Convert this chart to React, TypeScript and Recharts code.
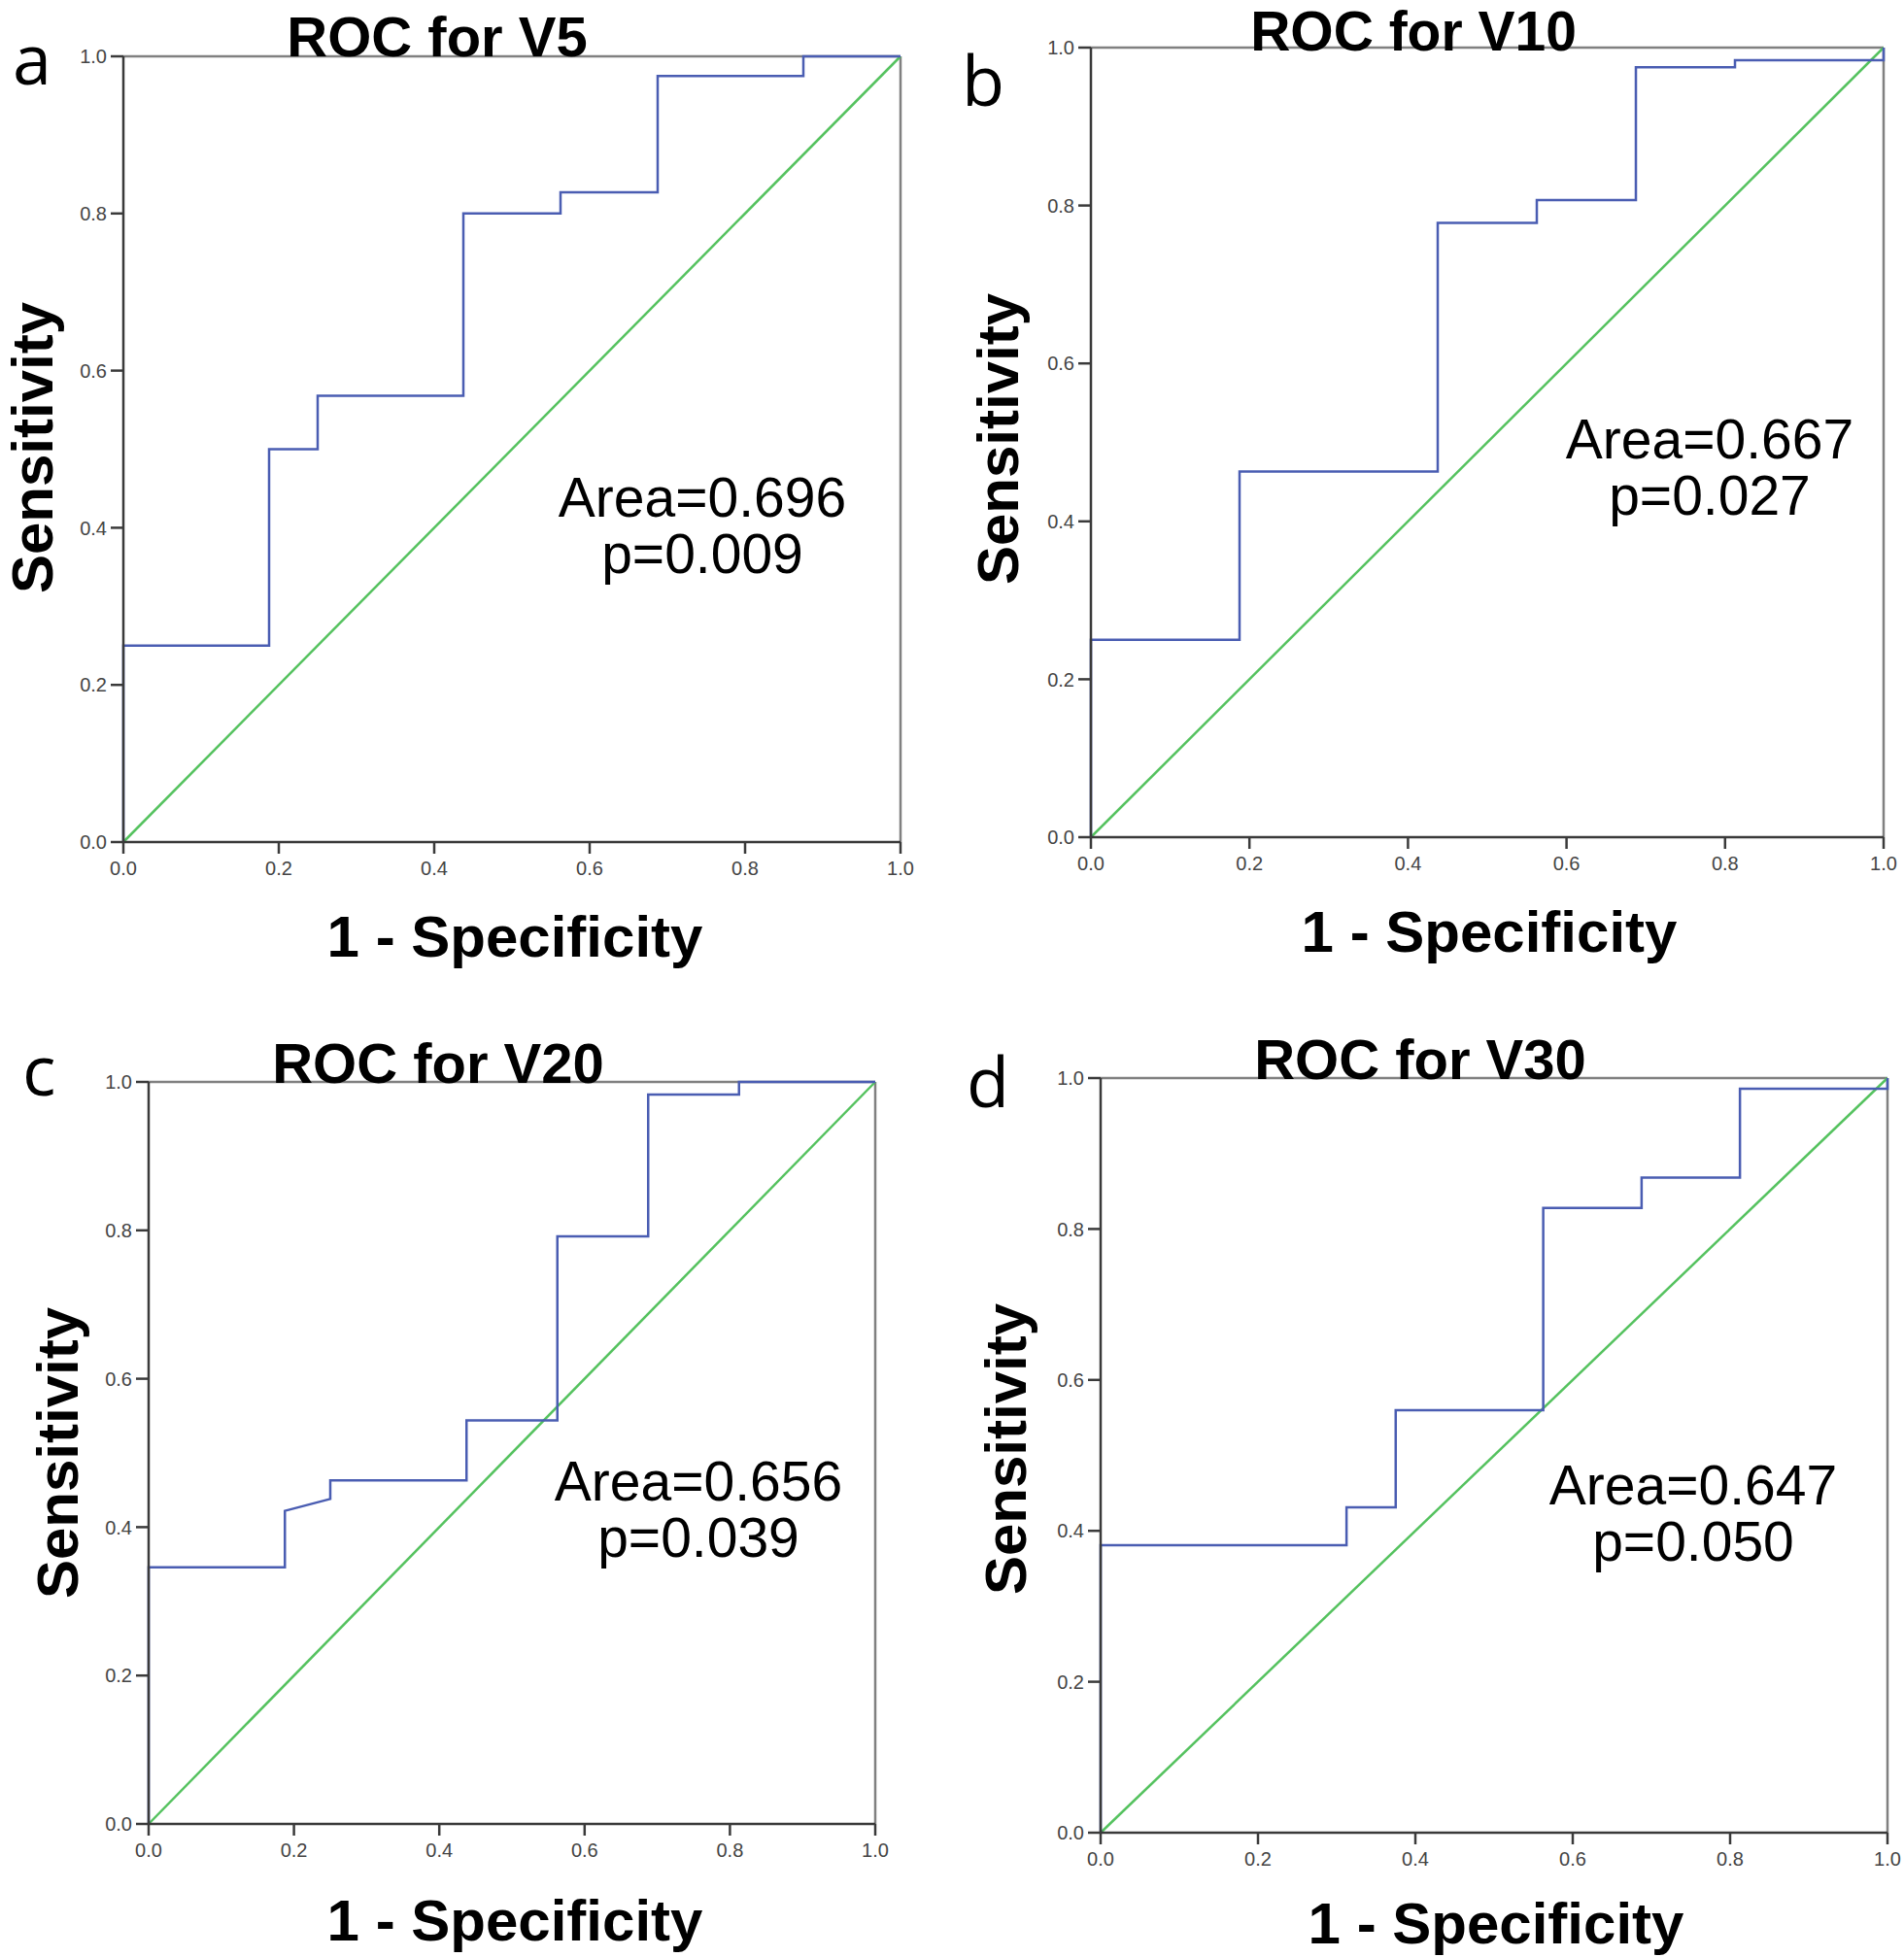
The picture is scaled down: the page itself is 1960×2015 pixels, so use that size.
import React from 'react'
import { LineChart, Line, XAxis, YAxis, ReferenceLine } from 'recharts'

// ROC step points (1 - specificity, sensitivity)
const v5Fpr = [0, 0, 0.1875, 0.1875, 0.25, 0.25, 0.4375, 0.4375, 0.5625, 0.5625, 0.6875, 0.6875, 0.875, 0.875, 1]
const v5Tpr = [0, 0.25, 0.25, 0.5, 0.5, 0.568, 0.568, 0.8, 0.8, 0.827, 0.827, 0.975, 0.975, 1, 1]

const v10Fpr = [0, 0, 0.1875, 0.1875, 0.4375, 0.4375, 0.5625, 0.5625, 0.6875, 0.6875, 0.8125, 0.8125, 1, 1]
const v10Tpr = [0, 0.25, 0.25, 0.463, 0.463, 0.778, 0.778, 0.807, 0.807, 0.975, 0.975, 0.984, 0.984, 1]

const v20Fpr = [0, 0, 0.1875, 0.1875, 0.25, 0.25, 0.4375, 0.4375, 0.5625, 0.5625, 0.6875, 0.6875, 0.8125, 0.8125, 1]
const v20Tpr = [0, 0.346, 0.346, 0.422, 0.438, 0.463, 0.463, 0.544, 0.544, 0.792, 0.792, 0.983, 0.983, 1, 1]

const v30Fpr = [0, 0, 0.3125, 0.3125, 0.375, 0.375, 0.5625, 0.5625, 0.6875, 0.6875, 0.8125, 0.8125, 1, 1]
const v30Tpr = [0, 0.381, 0.381, 0.431, 0.431, 0.56, 0.56, 0.828, 0.828, 0.868, 0.868, 0.986, 0.986, 1]

const refFpr = [0, 1]
const refTpr = [0, 1]

const axisTicks = [0, 0.2, 0.4, 0.6, 0.8, 1]

const titles = ['ROC for V5', 'ROC for V10', 'ROC for V20', 'ROC for V30']
const letters = ['a', 'b', 'c', 'd']
const areas = ['Area=0.696', 'Area=0.667', 'Area=0.656', 'Area=0.647']
const pValues = ['p=0.009', 'p=0.027', 'p=0.039', 'p=0.050']

const zip = (xs: number[], ys: number[]) => xs.map((x, i) => ({ x, y: ys[i] }))

const BLUE = '#4a5db2'
const GREEN = '#55c25f'
const SANS = 'Liberation Sans, Arial, sans-serif'

// plot box of each panel in page pixels, plus where its texts sit
const panels = [
  { fpr: v5Fpr, tpr: v5Tpr, box: { x: 127, y: 58, w: 800, h: 809 },
    letter: [13, 87], title: [450, 58, 58], note: [723, 532], xl: [530, 985], yl: [54, 461] },
  { fpr: v10Fpr, tpr: v10Tpr, box: { x: 1123, y: 49, w: 816, h: 813 },
    letter: [990, 109], title: [1455, 52, 57], note: [1760, 472], xl: [1533, 980], yl: [1048, 452] },
  { fpr: v20Fpr, tpr: v20Tpr, box: { x: 153, y: 1114, w: 748, h: 764 },
    letter: [23, 1128], title: [451, 1115, 58], note: [719, 1545], xl: [530, 1998], yl: [80, 1496] },
  { fpr: v30Fpr, tpr: v30Tpr, box: { x: 1133, y: 1110, w: 810, h: 777 },
    letter: [995, 1140], title: [1462, 1111, 58], note: [1743, 1549], xl: [1540, 2001], yl: [1056, 1492] },
]

const PAD_L = 70
const PAD_T = 10
const PAD_R = 20
const PAD_B = 60

const tickStyle = { fill: '#444', fontSize: 20, fontFamily: SANS }

function RocPanel({ fpr, tpr, box }: { fpr: number[]; tpr: number[]; box: { x: number; y: number; w: number; h: number } }) {
  const roc = zip(fpr, tpr)
  const diag = zip(refFpr, refTpr)
  return (
    <div style={{ position: 'absolute', left: box.x - PAD_L, top: box.y - PAD_T }}>
      <LineChart
        width={box.w + PAD_L + PAD_R}
        height={box.h + PAD_T + PAD_B}
        margin={{ top: PAD_T, right: PAD_R, left: PAD_L - 60, bottom: 0 }}
      >
        <XAxis
          dataKey="x"
          type="number"
          domain={[0, 1]}
          ticks={axisTicks}
          tickFormatter={(v: number) => v.toFixed(1)}
          height={PAD_B}
          stroke="#3a3a3a"
          strokeWidth={2.5}
          tickSize={12}
          tickMargin={8}
          tick={tickStyle}
          interval={0}
        />
        <YAxis
          type="number"
          domain={[0, 1]}
          ticks={axisTicks}
          tickFormatter={(v: number) => v.toFixed(1)}
          width={60}
          stroke="#3a3a3a"
          strokeWidth={2.5}
          tickSize={13}
          tickMargin={4}
          tick={tickStyle}
          interval={0}
        />
        <ReferenceLine y={1} stroke="#808080" strokeWidth={2.5} />
        <ReferenceLine x={1} stroke="#808080" strokeWidth={2.5} />
        <Line data={diag} dataKey="y" type="linear" stroke={GREEN} strokeWidth={2.5} dot={false} isAnimationActive={false} />
        <Line data={roc} dataKey="y" type="linear" stroke={BLUE} strokeWidth={2.5} dot={false} isAnimationActive={false} />
      </LineChart>
    </div>
  )
}

export default function App() {
  return (
    <div style={{ position: 'absolute', left: 0, top: 0, width: 1960, height: 2015, background: '#fff', overflow: 'hidden' }}>
      {panels.map((p, i) => (
        <RocPanel key={i} fpr={p.fpr} tpr={p.tpr} box={p.box} />
      ))}
      <svg width={1960} height={2015} style={{ position: 'absolute', left: 0, top: 0, pointerEvents: 'none' }}>
        {panels.map((p, i) => (
          <g key={i}>
            <text x={p.letter[0]} y={p.letter[1]} fontFamily="Open Sans, sans-serif" fontSize={72} fill="#000">
              {letters[i]}
            </text>
            <text x={p.title[0]} y={p.title[1]} textAnchor="middle" fontFamily={SANS} fontWeight="bold" fontSize={p.title[2]} fill="#000">
              {titles[i]}
            </text>
            <text x={p.note[0]} y={p.note[1]} textAnchor="middle" fontFamily={SANS} fontSize={57} fill="#000">
              {areas[i]}
            </text>
            <text x={p.note[0]} y={p.note[1] + 58} textAnchor="middle" fontFamily={SANS} fontSize={57} fill="#000">
              {pValues[i]}
            </text>
            <text x={p.xl[0]} y={p.xl[1]} textAnchor="middle" fontFamily={SANS} fontWeight="bold" fontSize={60} fill="#000">
              1 - Specificity
            </text>
            <text
              x={p.yl[0]}
              y={p.yl[1]}
              textAnchor="middle"
              transform={`rotate(-90 ${p.yl[0]} ${p.yl[1]})`}
              fontFamily={SANS}
              fontWeight="bold"
              fontSize={60}
              fill="#000"
            >
              Sensitivity
            </text>
          </g>
        ))}
      </svg>
    </div>
  )
}
